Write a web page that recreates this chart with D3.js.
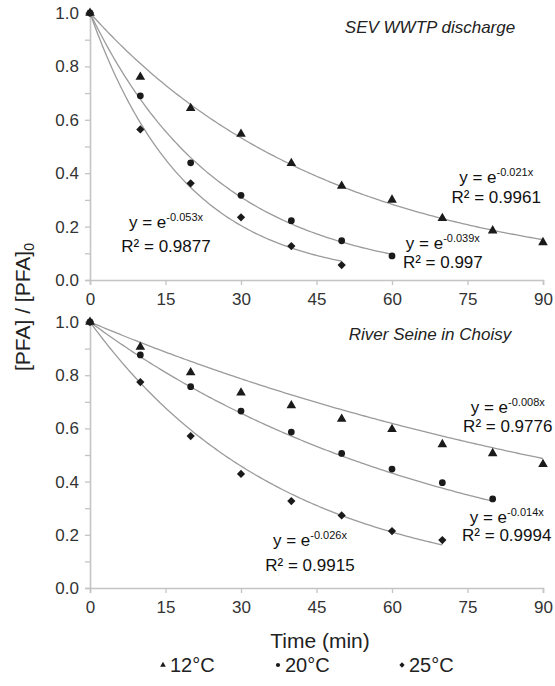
<!DOCTYPE html>
<html><head><meta charset="utf-8">
<script src="https://cdn.jsdelivr.net/npm/d3@7"></script>
<style>
body{margin:0;background:#fff}
text{font-family:Arial,"Liberation Sans",Helvetica,sans-serif}
</style>
</head><body>
<svg id="chart" width="555" height="686"></svg>
<script>
// ---------- data ----------
const times = [0,10,20,30,40,50,60,70,80,90];
const seriesNames = ["12°C","20°C","25°C"];
const panelTitles = ["SEV WWTP discharge","River Seine in Choisy"];
const xTicks = [0,15,30,45,60,75,90];
const yTicks = [0,0.2,0.4,0.6,0.8,1.0];

const sev12 = [1.0,0.76,0.643,0.547,0.437,0.352,0.30,0.231,0.185,0.141];
const sev20 = [1.0,0.69,0.439,0.317,0.222,0.147,0.09];
const sev25 = [1.0,0.564,0.362,0.235,0.127,0.056];
const seine12 = [1.0,0.906,0.81,0.734,0.686,0.635,0.597,0.54,0.506,0.465];
const seine20 = [1.0,0.876,0.757,0.665,0.586,0.506,0.447,0.396,0.335];
const seine25 = [1.0,0.774,0.571,0.429,0.327,0.273,0.214,0.18];

const sevK = [0.021,0.039,0.053];
const sevR2 = ["0.9961","0.997","0.9877"];
const seineK = [0.008,0.014,0.026];
const seineR2 = ["0.9776","0.9994","0.9915"];

// label anchors (data units: minutes, value of 2nd line baseline) and line gap px
const sevLabelPos = [[80.7,0.288,20],[70.1,0.045,19],[15.1,0.105,24]];
const seineLabelPos = [[83.0,0.586,19],[82.8,0.177,18],[43.7,0.064,25]];

// ---------- layout ----------
const svg = d3.select("#chart");
const X0 = 90, X1 = 543;
const panels = [
  {top:13, bottom:280, data:[sev12,sev20,sev25], k:sevK, r2:sevR2, lp:sevLabelPos, title:panelTitles[0], titleY:33},
  {top:322, bottom:588, data:[seine12,seine20,seine25], k:seineK, r2:seineR2, lp:seineLabelPos, title:panelTitles[1], titleY:340}
];
const axisColor = "#c4c4c4";
const markColor = "#1a1a1a";
const wideDiamond = {
  draw(ctx, size){ const r = Math.sqrt(size/2); ctx.moveTo(0,-r); ctx.lineTo(r,0); ctx.lineTo(0,r); ctx.lineTo(-r,0); ctx.closePath(); }
};
const symbols = [d3.symbolTriangle, d3.symbolCircle, wideDiamond];
const symSizes = [40, 36, 34];

const x = d3.scaleLinear().domain([0,90]).range([X0,X1]);

panels.forEach(p => {
  const y = d3.scaleLinear().domain([0,1]).range([p.bottom,p.top]);
  const g = svg.append("g");

  // y axis
  const ya = g.append("g").attr("transform",`translate(${X0},0)`)
    .call(d3.axisLeft(y).tickValues(d3.range(0,1.0001,0.1)).tickSize(5)
      .tickFormat(d => { const r=Math.round(d*10); return r%2===0 ? d3.format(".1f")(d) : ""; })
      .tickPadding(6));
  // x axis
  const xa = g.append("g").attr("transform",`translate(0,${p.bottom})`)
    .call(d3.axisBottom(x).tickValues(xTicks).tickSize(5).tickPadding(8));
  [ya,xa].forEach(a=>{
    a.selectAll("path").attr("stroke",axisColor).attr("stroke-width",1.6);
    a.selectAll("line").attr("stroke",axisColor).attr("stroke-width",1.3);
    a.selectAll("text").attr("fill","#333").style("font-size","17px");
  });

  // fit curves
  p.k.forEach((k,i) => {
    const n = p.data[i].length;
    const xmax = times[n-1];
    const pts = d3.range(0, xmax+0.001, 0.5).map(t => [t, Math.exp(-k*t)]);
    g.append("path").datum(pts)
      .attr("d", d3.line().x(d=>x(d[0])).y(d=>y(d[1])))
      .attr("fill","none").attr("stroke","#9b9b9b").attr("stroke-width",1.3);
  });

  // labels
  p.k.forEach((k,i) => {
    const [lx, ly, gap] = p.lp[i];
    const cx = x(lx), by = y(ly);
    const t1 = g.append("text").attr("x",cx).attr("y",by-gap).attr("text-anchor","middle")
      .style("font-size","17px").attr("fill","#111");
    t1.append("tspan").text("y = e");
    t1.append("tspan").attr("dy",-7).style("font-size","11px").text(`-${k.toFixed(3)}x`);
    g.append("text").attr("x",cx).attr("y",by).attr("text-anchor","middle")
      .style("font-size","17px").attr("fill","#111").text(`R² = ${p.r2[i]}`);
  });

  // markers
  p.data.forEach((vals,i) => {
    g.append("g").selectAll("path").data(vals).join("path")
      .attr("transform",(d,j)=>`translate(${x(times[j])},${y(d)})`)
      .attr("d", d3.symbol().type(symbols[i]).size(symSizes[i]))
      .attr("fill",markColor);
  });

  // title
  g.append("text").attr("x",430).attr("y",p.titleY).attr("text-anchor","middle")
    .style("font-size","17px").style("font-style","italic").attr("fill","#222").text(p.title);
});

// axis titles
svg.append("text").attr("x",320).attr("y",648).attr("text-anchor","middle")
  .style("font-size","21px").attr("fill","#222").text("Time (min)");
const yl = svg.append("text").attr("transform","translate(30,307) rotate(-90)")
  .attr("text-anchor","middle").style("font-size","21px").attr("fill","#222");
yl.append("tspan").text("[PFA] / [PFA]");
yl.append("tspan").attr("dy",4).style("font-size","14px").text("0");

// legend
const legX = [163, 278, 402];
const legSizes = [14, 14, 14];
seriesNames.forEach((name,i) => {
  svg.append("path").attr("transform",`translate(${legX[i]},665)`)
    .attr("d", d3.symbol().type(symbols[i]).size(legSizes[i])).attr("fill",markColor);
  svg.append("text").attr("x",legX[i]+7).attr("y",672).style("font-size","20px")
    .attr("fill","#222").text(name);
});
</script>
</body></html>
